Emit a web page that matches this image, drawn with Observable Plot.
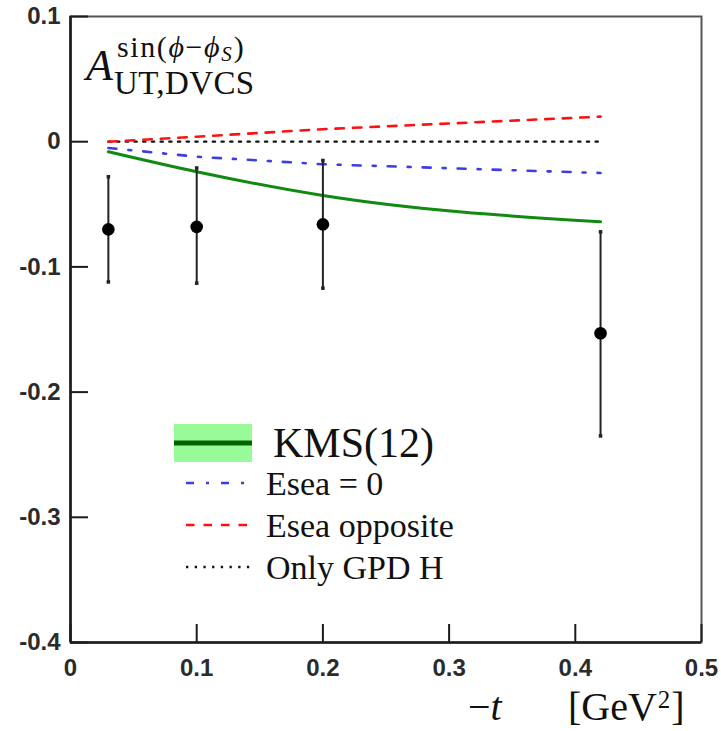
<!DOCTYPE html>
<html>
<head>
<meta charset="utf-8">
<script src="https://cdn.jsdelivr.net/npm/d3@7"></script>
<script src="https://cdn.jsdelivr.net/npm/@observablehq/plot@0.6"></script>
<style>
  body { margin: 0; background: #fff; }
  #chart { position: relative; width: 721px; height: 731px; }
  #overlay { position: absolute; left: 0; top: 0; pointer-events: none; }
</style>
</head>
<body>
<div id="chart"></div>
<script>
// -t bins [GeV^2] and measured sin(phi - phi_S) asymmetry with its error bars
const tValues      = [0.03, 0.1, 0.2, 0.42];
const asymMeasured = [-0.070, -0.068, -0.066, -0.153];
const errLow       = [-0.112, -0.113, -0.117, -0.235];
const errHigh      = [-0.028, -0.021, -0.015, -0.072];

// model curves evaluated at the same -t values
const kms12        = [-0.008, -0.024, -0.043, -0.064];
const eseaZero     = [-0.005, -0.012, -0.018, -0.025];
const eseaOpposite = [0.000, 0.004, 0.010, 0.020];
const onlyGpdH     = [0, 0, 0, 0];

const xTicks = [0, 0.1, 0.2, 0.3, 0.4, 0.5];
const yTicks = [-0.4, -0.3, -0.2, -0.1, 0, 0.1];
const legendLabels = ["KMS(12)", "Esea = 0", "Esea opposite", "Only GPD H"];

const W = 721, H = 731;
const mL = 70, mR = 20, mT = 16, mB = 89;
const serif = "'Liberation Serif', 'DejaVu Serif', serif";
const sans = "'Liberation Sans', Arial, sans-serif";

const points = tValues.map((t, i) => ({t, a: asymMeasured[i], lo: errLow[i], hi: errHigh[i]}));
const curve = ys => tValues.map((t, i) => ({t, v: ys[i]}));

const styles = {
  kms:  {stroke: "#118a11", width: 3},
  zero: {stroke: "#3d3de0", width: 2.6, dash: "8,12,3,12"},
  opp:  {stroke: "#ff1010", width: 2.6, dash: "8.5,9"},
  onlyH:{stroke: "#111", width: 2.3, dash: "2.3,6.4"}
};

const chart = Plot.plot({
  width: W, height: H,
  marginLeft: mL, marginRight: mR, marginTop: mT, marginBottom: mB,
  x: {domain: [0, 0.5]},
  y: {domain: [-0.4, 0.1]},
  style: {background: "#fff", overflow: "visible"},
  marks: [
    Plot.frame({stroke: "#555", strokeWidth: 2}),
    Plot.ruleX([0], {stroke: "#1c1c1c", strokeWidth: 2.6}),
    Plot.ruleY([-0.4], {stroke: "#1c1c1c", strokeWidth: 2.6}),
    // inward ticks
    Plot.axisY({ticks: yTicks, tickSize: 18, dx: 18, tickFormat: () => "", label: null, stroke: "#1c1c1c", strokeWidth: 2}),
    Plot.axisX({ticks: xTicks, tickSize: 18, dy: -18, tickFormat: () => "", label: null, stroke: "#1c1c1c", strokeWidth: 2}),
    // tick labels
    Plot.axisY({ticks: yTicks, tickSize: 0, tickPadding: 10, label: null,
      tickFormat: d => d === 0 ? "0" : String(d),
      fontSize: 24, fontWeight: "bold", fontFamily: sans, fill: "#2b2b2b"}),
    Plot.axisX({ticks: xTicks, tickSize: 0, tickPadding: 16, label: null,
      tickFormat: d => d === 0 ? "0" : String(d),
      fontSize: 24, fontWeight: "bold", fontFamily: sans, fill: "#2b2b2b"}),
    // model curves
    Plot.line(curve(onlyGpdH), {x: "t", y: "v", stroke: styles.onlyH.stroke, strokeWidth: styles.onlyH.width, strokeDasharray: styles.onlyH.dash}),
    Plot.line(curve(eseaOpposite), {x: "t", y: "v", stroke: styles.opp.stroke, strokeWidth: styles.opp.width, strokeDasharray: styles.opp.dash}),
    Plot.line(curve(eseaZero), {x: "t", y: "v", stroke: styles.zero.stroke, strokeWidth: styles.zero.width, strokeDasharray: styles.zero.dash}),
    Plot.line(curve(kms12), {x: "t", y: "v", stroke: styles.kms.stroke, strokeWidth: styles.kms.width, curve: "monotone-x"}),
    // measurements
    Plot.ruleX(points, {x: "t", y1: "lo", y2: "hi", stroke: "#222", strokeWidth: 2}),
    Plot.dot(points, {x: "t", y: "lo", symbol: "square", r: 2, fill: "#222"}),
    Plot.dot(points, {x: "t", y: "hi", symbol: "square", r: 2, fill: "#222"}),
    Plot.dot(points, {x: "t", y: "a", r: 6.3, fill: "#000"})
  ]
});

const holder = document.getElementById("chart");
holder.appendChild(chart);

// axis titles and legend, drawn on top of the plot
const ov = d3.select(holder).append("svg")
  .attr("id", "overlay").attr("width", W).attr("height", H)
  .attr("font-family", serif).attr("fill", "#111");

// A_{UT,DVCS}^{sin(phi - phi_S)} as one text element
const yt = ov.append("text");
yt.append("tspan").attr("x", 86).attr("y", 80).attr("font-size", 44).attr("font-style", "italic").text("A");
const sup = [
  {s: "sin(", it: false}, {s: "\u03D5", it: true}, {s: "\u2212", it: false}, {s: "\u03D5", it: true}
];
sup.forEach((p, i) => {
  const ts = yt.append("tspan").attr("font-size", 30).attr("letter-spacing", 1.6)
    .attr("font-style", p.it ? "italic" : "normal").attr("y", 57).text(p.s);
  if (i === 0) ts.attr("x", 117);
});
yt.append("tspan").attr("font-size", 21).attr("font-style", "italic").attr("y", 61).text("S");
yt.append("tspan").attr("font-size", 30).attr("y", 57).attr("dx", 2).text(")");
yt.append("tspan").attr("x", 114).attr("y", 94).attr("font-size", 33).attr("letter-spacing", 0.4).text("UT,DVCS");

// -t [GeV^2]
const xt = ov.append("text").attr("font-size", 40);
xt.append("tspan").attr("x", 468).attr("y", 720).text("\u2212");
xt.append("tspan").attr("font-style", "italic").text("t");
xt.append("tspan").attr("x", 568).text("[GeV");
xt.append("tspan").attr("font-size", 25).attr("y", 708).attr("dx", 1).text("2");
xt.append("tspan").attr("y", 720).attr("dx", 1).text("]");

// legend
ov.append("rect").attr("x", 174).attr("y", 424).attr("width", 78).attr("height", 38).attr("fill", "#98fb98");
ov.append("line").attr("x1", 174).attr("x2", 252).attr("y1", 443).attr("y2", 443)
  .attr("stroke", "#006400").attr("stroke-width", 5);
ov.append("text").attr("x", 273).attr("y", 457).attr("font-size", 42).text(legendLabels[0]);

[styles.zero, styles.opp, styles.onlyH].forEach((s, i) => {
  const yLine = 483 + i * 42;
  ov.append("line").attr("x1", 186).attr("x2", 250).attr("y1", yLine).attr("y2", yLine)
    .attr("stroke", s.stroke).attr("stroke-width", s.width).attr("stroke-dasharray", s.dash);
  ov.append("text").attr("x", 266).attr("y", yLine + 12).attr("font-size", 34).text(legendLabels[i + 1]);
});
</script>
</body>
</html>
